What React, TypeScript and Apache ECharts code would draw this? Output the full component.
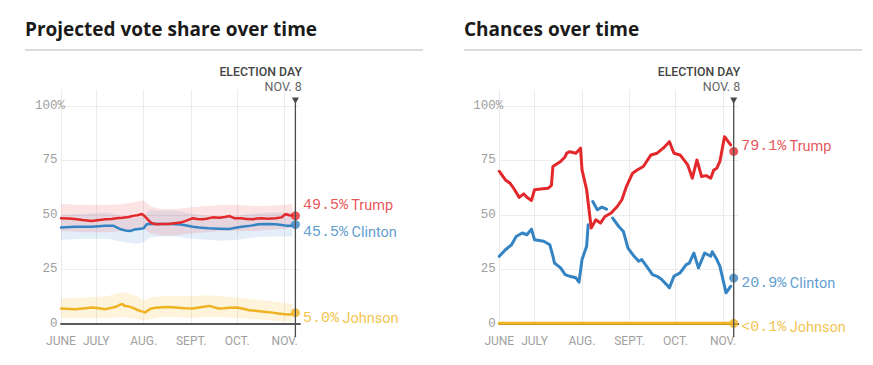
import React, { useEffect, useRef } from 'react';
import * as echarts from 'echarts';

// ---- axis definitions ----
const TOTAL_DAYS = 156; // June 8 -> Nov 11, 2016
const ELECTION_DAY = 153; // Nov 8
const monthTickDays = [0, 23, 54, 85, 115, 146];
const monthTickLabels = ['JUNE', 'JULY', 'AUG.', 'SEPT.', 'OCT.', 'NOV.'];
const yTickInterval = 25;

const pad = (n: number) => String(n).padStart(2, '0');
const categories: string[] = [];
for (let i = 0; i <= TOTAL_DAYS; i++) {
  const d = new Date(2016, 5, 8 + i);
  categories.push(`${d.getFullYear()}-${pad(d.getMonth() + 1)}-${pad(d.getDate())}`);
}

// ---- projected vote share (day index, %) ----
const trumpShare: [number, number][] = [
  [0, 48.4], [5, 48.3], [9, 48.1], [14, 47.6], [20, 47.1], [25, 47.6], [29, 47.9], [33, 48.1],
  [36, 48.4], [40, 48.6], [43, 48.8], [46, 49.3], [48, 49.6], [50, 49.8], [52, 50.2], [53, 50.3],
  [55, 49.1], [57, 47.5], [59, 46.2], [62, 45.6], [66, 45.7], [70, 45.8], [74, 46.1], [78, 46.4],
  [81, 47.1], [84, 47.9], [86, 48.4], [89, 48.1], [92, 47.9], [95, 48.2], [99, 48.8], [103, 48.6],
  [107, 49.0], [110, 49.4], [113, 48.4], [118, 48.4], [121, 48.0], [125, 47.9], [128, 48.3],
  [131, 48.4], [135, 48.2], [140, 48.4], [144, 48.8], [146, 50.0], [147, 50.2], [149, 49.8], [151, 49.6],
];
const clintonShare: [number, number][] = [
  [0, 44.1], [9, 44.5], [20, 44.5], [29, 45.0], [34, 45.0], [36, 44.3], [39, 43.3], [42, 42.8],
  [45, 42.5], [48, 43.2], [51, 43.5], [54, 43.8], [55, 44.8], [56, 45.6], [58, 45.9], [65, 45.7],
  [72, 45.8], [78, 45.5], [82, 45.1], [86, 44.5], [90, 44.1], [96, 43.8], [103, 43.6], [110, 43.5],
  [114, 44.0], [118, 44.5], [124, 45.0], [129, 45.6], [134, 45.7], [140, 45.6], [144, 45.3],
  [147, 45.0], [151, 45.0],
];
const johnsonShare: [number, number][] = [
  [0, 6.9], [9, 6.6], [16, 7.0], [20, 7.4], [25, 7.0], [29, 6.6], [33, 7.2], [36, 7.7], [38, 8.5],
  [40, 8.9], [42, 8.0], [44, 7.9], [47, 7.2], [50, 6.2], [52, 5.7], [55, 5.1], [57, 6.2], [59, 6.9],
  [62, 7.2], [66, 7.5], [70, 7.6], [77, 7.2], [81, 7.0], [86, 6.9], [91, 7.5], [97, 8.1], [100, 7.4],
  [103, 6.9], [106, 7.0], [110, 7.2], [115, 7.4], [119, 6.8], [123, 6.1], [128, 5.8], [134, 5.3],
  [138, 5.0], [142, 4.6], [146, 4.3], [149, 4.1], [151, 4.3],
];

// uncertainty bands (same days for all)
const bandDays = [0, 15, 30, 40, 50, 54, 58, 65, 75, 85, 95, 105, 115, 125, 135, 145, 151];
const trumpLow = [42.5, 42, 42, 42.5, 43.5, 44, 41.5, 40.5, 40.5, 41.5, 42, 42.5, 42.5, 42.5, 43, 43.5, 44];
const trumpHigh = [55, 54.5, 54.5, 55, 56, 56.5, 54, 52.5, 52.5, 53.5, 54, 54.5, 54.5, 54, 54, 54.5, 55];
const clintonLow = [38.5, 39, 39, 37.5, 36.5, 37.5, 39.5, 40, 40, 39, 38.5, 38, 38.5, 39.5, 40, 40, 40];
const clintonHigh = [50, 50.5, 51, 49.5, 48.5, 50, 52, 52, 52, 50.5, 49.5, 49, 49.5, 50.5, 51, 51, 51];
const johnsonLow = [2.5, 2.5, 2.5, 3, 2, 1.5, 2, 3, 3, 2.5, 3, 3, 2.5, 2, 1.5, 1, 1];
const johnsonHigh = [11.5, 12, 12.5, 14.5, 12.5, 10.5, 12, 12.5, 12.5, 12.5, 13, 12.5, 12, 11, 10.5, 9.5, 9];

// ---- chances of winning (day index, %) ----
const trumpChance: [number, number][] = [
  [0, 70], [2, 68], [4, 66], [7, 64.5], [10, 61.5], [13, 58], [16, 59.6], [18, 58], [21, 56.6],
  [23, 61.5], [27, 61.8], [32, 62.2], [34, 63.5], [35, 72.2], [40, 74.5], [43, 76.7], [44, 78.3],
  [46, 79], [50, 78.3], [53, 80.6], [54, 70.6], [57, 61.5], [60, 43.9], [63, 47.7], [66, 46.2],
  [69, 49.2], [73, 50.8], [77, 53.8], [80, 56.9], [83, 63], [87, 69.1], [90, 70.6], [94, 72.2],
  [99, 77.5], [103, 78.3], [107, 80.6], [111, 83.6], [114, 78.3], [118, 77.5], [123, 72.9],
  [126, 66.8], [129, 75.2], [132, 67.6], [135, 68], [138, 66.8], [140, 70.6], [142, 71.4],
  [144, 74.5], [147, 85.9], [151, 82.1],
];
const clintonChance: [number, number | null][] = [
  [0, 30.9], [4, 33.9], [8, 36.2], [11, 40], [15, 41.6], [18, 40.8], [21, 43.4], [23, 38.5],
  [29, 37.8], [33, 36.2], [35, 31], [36, 27.8], [40, 25.6], [43, 22.5], [46, 21.7], [50, 21],
  [52, 19], [54, 29.4], [57, 35.5], [58, 45.4], [59, null], [61, 56.1], [64, 52.3], [67, 53.5],
  [70, 52.6], [72, null], [74, 48.5], [78, 44.6], [81, 42.3], [84, 34.7], [88, 30.9], [91, 28.6],
  [93, 29.4], [97, 25.5], [100, 22.5], [103, 21.7], [106, 20.2], [109, 18], [111, 16.4],
  [114, 21.7], [118, 23.3], [122, 27.1], [124, 27.8], [127, 32.4], [130, 25.5], [134, 32.4],
  [138, 30.9], [139, 33], [142, 29.4], [144, 26.3], [148, 14.1], [151, 17.1],
];
const johnsonChance: [number, number][] = [[0, 0.1], [50, 0.1], [100, 0.1], [151, 0.1]];

// final values on election day
const candidates = ['Trump', 'Clinton', 'Johnson'];
const finalShare = [49.5, 45.5, 5.0];
const finalShareLabels = ['49.5%', '45.5%', '5.0%'];
const finalChance = [79.1, 20.9, 0.1];
const finalChanceLabels = ['79.1%', '20.9%', '<0.1%'];

const COLORS = ['#e3282b', '#3484c4', '#efb321'];
const BAND_COLORS = ['rgba(236,90,95,0.17)', 'rgba(80,150,215,0.16)', 'rgba(250,200,80,0.2)'];

const MONO = '"Liberation Mono", "DejaVu Sans Mono", monospace';
const SANS = 'Roboto, "Noto Sans", sans-serif';
const TITLE_FONT = '"Open Sans", Roboto, sans-serif';

const gridDefs = [
  { left: 61, top: 89.7, width: 239, height: 233.8 },
  { left: 499.3, top: 89.7, width: 239, height: 233.8 },
];

function makeXAxis(gridIndex: number) {
  const isTick = (i: number) => monthTickDays.indexOf(i) >= 0;
  return {
    type: 'category',
    gridIndex,
    data: categories,
    boundaryGap: false,
    axisLine: { show: true, lineStyle: { color: '#5a5a5a', width: 2 } },
    axisTick: { show: false },
    axisLabel: {
      interval: (i: number) => isTick(i),
      showMinLabel: true,
      formatter: (_v: string, i: number) => {
        const k = monthTickDays.indexOf(i);
        return k >= 0 ? monthTickLabels[k] : '';
      },
      color: '#a0a0a0',
      fontFamily: SANS,
      fontSize: 12,
      margin: 11,
    },
    splitLine: {
      show: true,
      interval: (i: number) => isTick(i),
      lineStyle: { color: '#ebebeb', width: 1 },
    },
  };
}

function makeYAxis(gridIndex: number) {
  return {
    type: 'value',
    gridIndex,
    min: 0,
    max: 107.5,
    interval: yTickInterval,
    axisLine: { show: false },
    axisTick: { show: false },
    axisLabel: {
      margin: -4,
      color: '#a0a0a0',
      fontFamily: MONO,
      fontSize: 12.5,
      formatter: (v: number) => (v > 100 ? '' : v === 100 ? '100%' : `{v|${v}}`),
      rich: { v: { padding: [0, 7.5, 0, 0], fontFamily: MONO, fontSize: 12.5, color: '#a0a0a0' } },
    },
    splitLine: {
      show: true,
      lineStyle: { color: ['#ececec', '#ececec', '#ececec', '#ececec', '#ececec', 'rgba(0,0,0,0)'], width: 1 },
    },
  };
}

function bandSeries(g: number, name: string, low: number[], high: number[], color: string) {
  return [
    {
      type: 'line', xAxisIndex: g, yAxisIndex: g, stack: name, silent: true,
      data: bandDays.map((d, i) => [d, low[i]]),
      showSymbol: false, lineStyle: { opacity: 0 },
    },
    {
      type: 'line', xAxisIndex: g, yAxisIndex: g, stack: name, silent: true,
      data: bandDays.map((d, i) => [d, high[i] - low[i]]),
      showSymbol: false, lineStyle: { opacity: 0 }, areaStyle: { color, opacity: 1 },
    },
  ];
}

function lineSeries(g: number, data: any[], color: string, width: number) {
  return {
    type: 'line', xAxisIndex: g, yAxisIndex: g, silent: true, data,
    showSymbol: false, connectNulls: false,
    lineStyle: { color, width, join: 'round', cap: 'round' },
  };
}

function dotSeries(g: number, idx: number, value: number, label: string, dy: number) {
  const color = COLORS[idx];
  return {
    type: 'scatter', xAxisIndex: g, yAxisIndex: g, silent: true, clip: false,
    data: [[ELECTION_DAY, value]],
    symbolSize: 9,
    itemStyle: { color },
    z: 5,
    label: {
      show: true,
      position: 'right',
      distance: 3,
      offset: [0, dy],
      formatter: `{n|${label}}{t| ${candidates[idx]}}`,
      rich: {
        n: { fontFamily: MONO, fontSize: 15, color },
        t: { fontFamily: SANS, fontSize: 14.5, color },
      },
    },
  };
}

export default function App() {
  const ref = useRef<HTMLDivElement>(null);
  useEffect(() => {
    if (!ref.current) return;
    const chart = echarts.init(ref.current, null, { renderer: 'svg' });
    const option: any = {
      animation: false,
      backgroundColor: '#ffffff',
      grid: gridDefs,
      xAxis: [makeXAxis(0), makeXAxis(1)],
      yAxis: [makeYAxis(0), makeYAxis(1)],
      series: [
        ...bandSeries(0, 'jb', johnsonLow, johnsonHigh, BAND_COLORS[2]),
        ...bandSeries(0, 'cb', clintonLow, clintonHigh, BAND_COLORS[1]),
        ...bandSeries(0, 'tb', trumpLow, trumpHigh, BAND_COLORS[0]),
        lineSeries(0, johnsonShare, COLORS[2], 2.5),
        lineSeries(0, clintonShare, COLORS[1], 2.5),
        lineSeries(0, trumpShare, COLORS[0], 2.5),
        dotSeries(0, 0, finalShare[0], finalShareLabels[0], -10),
        dotSeries(0, 1, finalShare[1], finalShareLabels[1], 8),
        dotSeries(0, 2, finalShare[2], finalShareLabels[2], 5.5),
        lineSeries(1, johnsonChance, COLORS[2], 3),
        lineSeries(1, clintonChance, COLORS[1], 3),
        lineSeries(1, trumpChance, COLORS[0], 3),
        dotSeries(1, 0, finalChance[0], finalChanceLabels[0], -5),
        dotSeries(1, 1, finalChance[1], finalChanceLabels[1], 5),
        dotSeries(1, 2, finalChance[2], finalChanceLabels[2], 4),
      ],
    };
    chart.setOption(option);

    const titles = ['Projected vote share over time', 'Chances over time'];
    const graphics: any[] = [];
    [0, 1].forEach((g) => {
      const x0 = g === 0 ? 25 : 464;
      graphics.push({
        type: 'text', silent: true,
        style: { text: titles[g], x: x0, y: 28.5, fill: '#1a1a1a', font: `bold 19px ${TITLE_FONT}`, textVerticalAlign: 'middle' },
      });
      graphics.push({
        type: 'line', silent: true,
        shape: { x1: x0, y1: 50, x2: x0 + 398, y2: 50 },
        style: { stroke: '#cfcfcf', lineWidth: 1.5 },
      });
      const pTop = chart.convertToPixel({ gridIndex: g }, [ELECTION_DAY, 100]) as number[];
      const pBot = chart.convertToPixel({ gridIndex: g }, [ELECTION_DAY, 0]) as number[];
      const ex = pTop[0];
      graphics.push({
        type: 'line', silent: true, z: 10,
        shape: { x1: ex, y1: pTop[1] - 3, x2: ex, y2: pBot[1] + 13.5 },
        style: { stroke: '#4a4a4a', lineWidth: 1.3 },
      });
      graphics.push({
        type: 'polygon', silent: true, z: 10,
        shape: { points: [[ex - 3.5, pTop[1] - 8.5], [ex + 3.5, pTop[1] - 8.5], [ex, pTop[1] - 2]] },
        style: { fill: '#4a4a4a' },
      });
      graphics.push({
        type: 'text', silent: true,
        style: { text: 'ELECTION DAY', x: ex + 6.5, y: pTop[1] - 34, fill: '#444', font: `500 12.3px ${SANS}`, textAlign: 'right', textVerticalAlign: 'middle' },
      });
      graphics.push({
        type: 'text', silent: true,
        style: { text: 'NOV. 8', x: ex + 6.5, y: pTop[1] - 20, fill: '#666', font: `12.5px ${SANS}`, textAlign: 'right', textVerticalAlign: 'middle' },
      });
    });
    chart.setOption({ graphic: graphics });
    return () => chart.dispose();
  }, []);

  return (
    <div
      ref={ref}
      style={{ position: 'absolute', left: 0, top: 0, width: 873, height: 365, background: '#fff' }}
    />
  );
}
